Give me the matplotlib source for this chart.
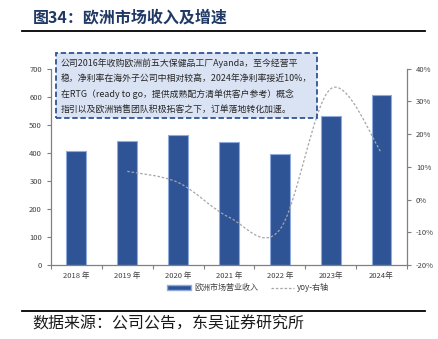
import matplotlib
matplotlib.use('Agg')
import matplotlib.pyplot as plt
from matplotlib.path import Path
from matplotlib.patches import PathPatch
from matplotlib.lines import Line2D
from matplotlib.patches import Patch

plt.rcParams['font.family'] = ['Noto Sans CJK SC', 'DejaVu Sans']

#%% Data
years = ['2018 年', '2019 年', '2020 年', '2021 年', '2022 年', '2023年', '2024年']
revenue = [405, 440, 463, 438, 397, 531, 607]
yoy = [None, 8.6, 5.2, -5.4, -9.2, 33.8, 14.3]

note = ('公司2016年收购欧洲前五大保健品工厂Ayanda，至今经营平\n'
        '稳，净利率在海外子公司中相对较高，2024年净利率接近10%，\n'
        '在RTG（ready to go，提供成熟配方清单供客户参考）概念\n'
        '指引以及欧洲销售团队积极拓客之下，订单落地转化加速。')

BAR = '#2f5496'
GRAY = '#808080'
LINE = '#a6a6a6'

#%% Figure
fig = plt.figure(figsize=(4.38, 3.39), dpi=100)
ax = fig.add_axes([0.1164, 0.2183, 0.8126, 0.5796])

x = list(range(len(years)))
ax.bar(x, revenue, width=0.39, color=BAR, edgecolor='#8faadc', linewidth=0.8, zorder=2)
ax.set_xlim(-0.5, len(years) - 0.5)
ax.set_ylim(0, 700)
ax.set_yticks(range(0, 701, 100))
ax.set_xticks(x)
ax.set_xticklabels(years, fontsize=5.5, color='#404040')
ax.set_xticks([i - 0.5 for i in range(len(years) + 1)], minor=True)
ax.tick_params(axis='x', which='major', length=0, pad=5)
ax.tick_params(axis='x', which='minor', length=3, color=GRAY, width=0.8)
ax.tick_params(axis='y', labelsize=5.5, length=3, color=GRAY, width=0.8, labelcolor='#404040')
for s in ['top', 'right']:
    ax.spines[s].set_visible(False)
for s in ['left', 'bottom']:
    ax.spines[s].set_color(GRAY)
    ax.spines[s].set_linewidth(0.9)

#%% Right axis, smooth yoy line
ax2 = ax.twinx()
ax2.set_ylim(-20, 40)
ax2.set_yticks(range(-20, 41, 10))
ax2.set_yticklabels([f'{v}%' for v in range(-20, 41, 10)])
ax2.tick_params(axis='y', labelsize=5.5, length=3, color=GRAY, width=0.8, labelcolor='#404040')
for s in ['top', 'left', 'bottom']:
    ax2.spines[s].set_visible(False)
ax2.spines['right'].set_color(GRAY)
ax2.spines['right'].set_linewidth(0.9)

# smoothed like excel: bezier through the points
pts = [(i, v) for i, v in zip(x, yoy) if v is not None]
verts = [pts[0]]
codes = [Path.MOVETO]
for i in range(len(pts) - 1):
    p0 = pts[max(i - 1, 0)]
    p1 = pts[i]
    p2 = pts[i + 1]
    p3 = pts[min(i + 2, len(pts) - 1)]
    c1 = (p1[0] + (p2[0] - p0[0]) / 6, p1[1] + (p2[1] - p0[1]) / 6)
    c2 = (p2[0] - (p3[0] - p1[0]) / 6, p2[1] - (p3[1] - p1[1]) / 6)
    verts += [c1, c2, p2]
    codes += [Path.CURVE4] * 3
ax2.add_patch(PathPatch(Path(verts, codes), fill=False, edgecolor=LINE,
                        linewidth=0.9, linestyle=(0, (2, 1.5)), zorder=3))

#%% Legend
handles = [Patch(facecolor=BAR, edgecolor='#8faadc'),
           Line2D([0], [0], color=LINE, linewidth=0.9, linestyle=(0, (2, 1.5)))]
fig.legend(handles, ['欧洲市场营业收入', 'yoy-右轴'], loc='center',
           bbox_to_anchor=(0.567, 0.151), ncol=2, frameon=False, fontsize=5.8,
           handlelength=2.9, handleheight=0.5, columnspacing=1.6, handletextpad=0.4,
           labelcolor='#404040')

#%% Annotation box
fig.text(0.139, 0.747, note, fontsize=6.4, linespacing=1.8, va='center', ha='left',
         color='#262626',
         bbox=dict(boxstyle='square,pad=0.55', facecolor='#dae3f3', edgecolor='#2f5597',
                   linestyle=(0, (3, 1.5)), linewidth=1.3))

#%% Title, rules and source
fig.text(0.075, 0.948, '图34：欧洲市场收入及增速', fontsize=11.5, fontweight='bold',
         color='#1f3864', va='center', ha='left')
fig.add_artist(Line2D([0.05, 0.97], [0.908, 0.908], color='black', linewidth=1.3))
fig.add_artist(Line2D([0.05, 0.97], [0.083, 0.083], color='black', linewidth=1.3))
fig.text(0.073, 0.045, '数据来源：公司公告，东吴证券研究所', fontsize=11.5,
         color='#1a1a1a', va='center', ha='left')

fig.savefig('out.png', dpi=100)
